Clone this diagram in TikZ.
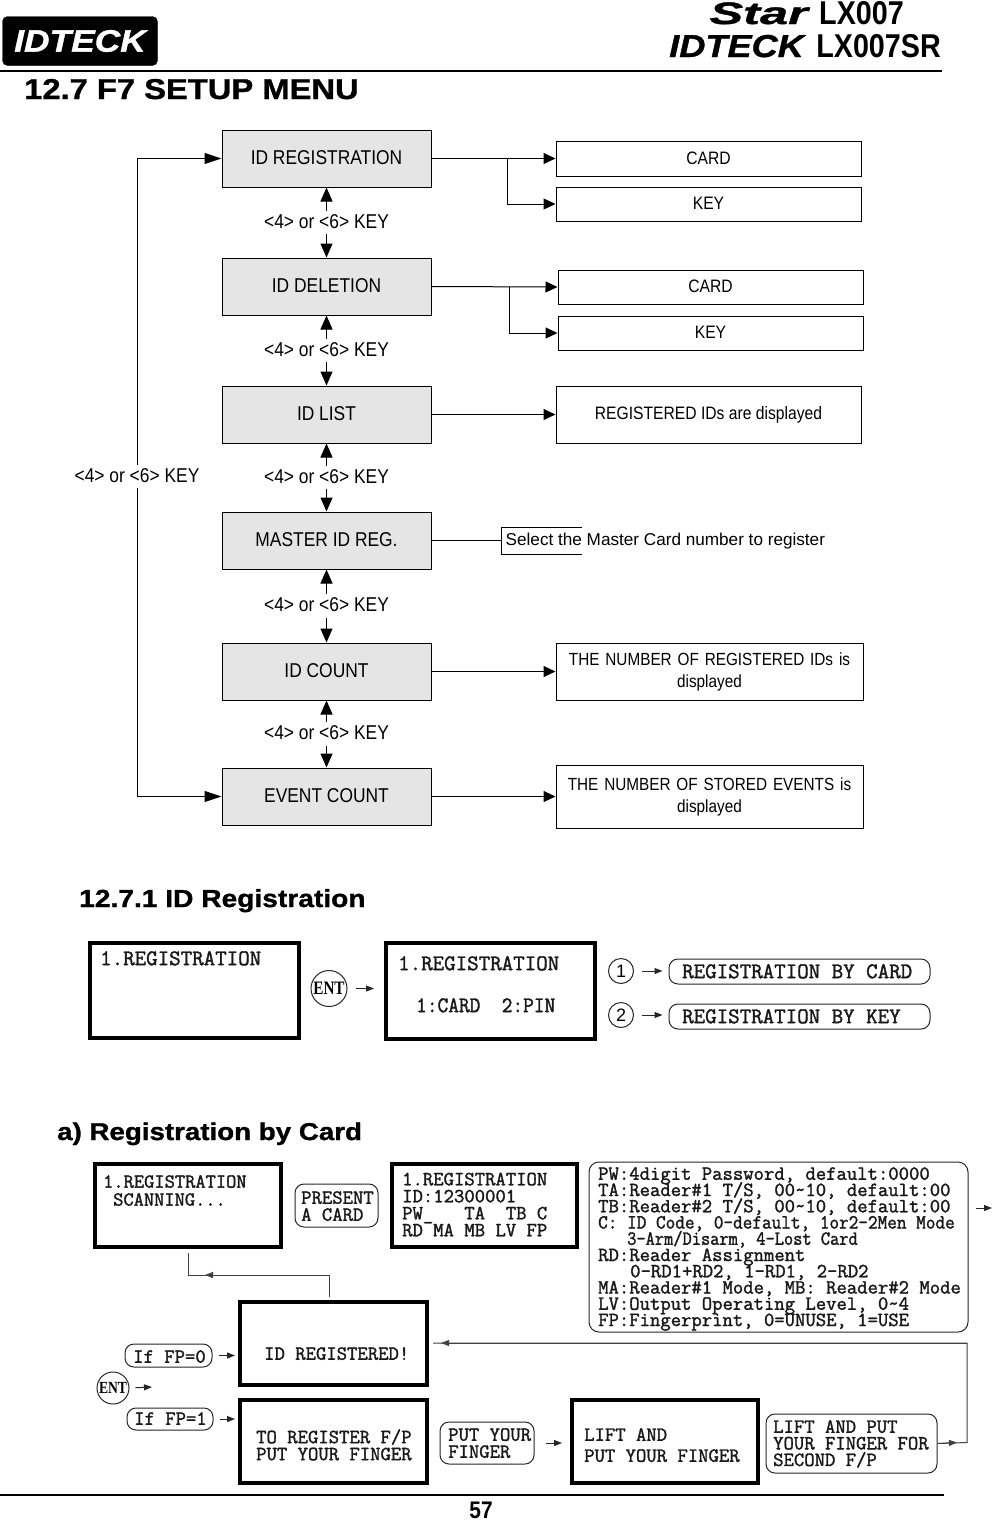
\documentclass[tikz,border=0pt]{standalone}
\usepackage{fontspec}
\usetikzlibrary{arrows.meta}
\setmainfont{Liberation Sans}
\newfontfamily\flowfam[FakeStretch=0.87]{Liberation Sans}
\newfontfamily\headfam[FakeStretch=1.14,FakeBold=1.2]{Liberation Sans Bold}
\newfontfamily\starfam[FakeStretch=1.63,FakeBold=1.2]{Liberation Sans Bold}
\newfontfamily\narrowfam[FakeStretch=0.87]{Liberation Sans Bold}
\newfontfamily\lcdfam[Scale=1.163,FakeBold=1.6]{Latin Modern Mono}
\newfontfamily\lcdnarrow[Scale=1.163,FakeBold=1.6,FakeStretch=0.93]{Latin Modern Mono}
\newfontfamily\lcdnarrower[Scale=1.163,FakeBold=1.6,FakeStretch=0.89]{Latin Modern Mono}
\newfontfamily\entfam[FakeStretch=0.8]{Liberation Serif Bold}
\newcommand{\pxf}[2]{\fontsize{#1}{#2}\selectfont}
\tikzset{
  x=1pt,y=-1pt,
  flowbox/.style={draw=black,fill=black!10,line width=1pt,minimum width=209,minimum height=57,inner sep=0pt,text depth=2pt,font=\flowfam\pxf{20}{22}},
  infobox/.style={draw=black,line width=1pt,inner sep=0pt,font=\flowfam\pxf{18}{22},align=center},
  infolong/.style={infobox,minimum width=307,text width=300,font=\flowfam\pxf{17.6}{22}},
  vkey/.style={line width=1pt,{Triangle[length=14pt,width=12pt]}-{Triangle[length=14pt,width=12pt]}},
  loopline/.style={line width=1pt,{Triangle[length=17pt,width=11pt]}-{Triangle[length=17pt,width=11pt]}},
  rarrow/.style={line width=1pt,-{Triangle[length=12pt,width=11pt]}},
  plain/.style={line width=1pt},
  keylabel/.style={fill=white,inner xsep=1pt,inner ysep=4pt,text depth=2pt,font=\flowfam\pxf{20}{22}},
  lcd/.style={draw=black,line width=4pt,inner sep=0pt},
  pill/.style={draw=black!85,line width=1pt,rounded corners=9pt,inner sep=0pt},
  lcdtext/.style={anchor=north west,inner sep=0pt,align=left,text=black!90,execute at begin node={\lineskiplimit=-30pt\relax}},
  tiny/.style={line width=1pt,draw=black!85,-{Triangle[length=8pt,width=6pt]},shorten <=4pt,shorten >=4pt},
  thin1/.style={line width=1pt,draw=black!75},
  circ/.style={draw=black!85,line width=1pt,circle,inner sep=0pt}
}
\begin{document}
\begin{tikzpicture}
\useasboundingbox (0,0) rectangle (992,1521);
% header
\node[draw=black,fill=black,rounded corners=5pt,minimum width=155,minimum height=49,inner sep=0pt,text=white,font=\headfam\itshape\pxf{31}{31}] (logo) at (80,41) {IDTECK};
\node[anchor=base east,inner sep=0pt,font=\starfam\itshape\pxf{31}{31}] (star) at (808,24) {Star};
\node[anchor=base east,inner sep=0pt,font=\narrowfam\pxf{33}{33}] (model1) at (904,24) {LX007};
\node[anchor=base east,inner sep=0pt,font=\headfam\itshape\pxf{31.7}{32}] (idteck) at (804,57) {IDTECK};
\node[anchor=base east,inner sep=0pt,font=\narrowfam\pxf{33}{33}] (model2) at (941,57) {LX007SR};
\coordinate (ruleAl) at (0,71); \coordinate (ruleAr) at (942,71);
\draw[line width=2pt] (ruleAl) -- (ruleAr);
\node[anchor=base west,inner sep=0pt,font=\headfam\pxf{28.7}{29}] (title) at (24,99) {12.7 F7 SETUP MENU};

% flow boxes
\node[flowbox] (reg) at (326.5,158.5) {ID REGISTRATION};
\node[flowbox] (del) at (326.5,286.5) {ID DELETION};
\node[flowbox] (lst) at (326.5,414.5) {ID LIST};
\node[flowbox] (mas) at (326.5,540.5) {MASTER ID REG.};
\node[flowbox] (cnt) at (326.5,671.5) {ID COUNT};
\node[flowbox] (evt) at (326.5,796.5) {EVENT COUNT};

\node[infobox,minimum width=305,minimum height=35] (card1) at (708.5,158.5) {CARD};
\node[infobox,minimum width=305,minimum height=34,text depth=2pt] (key1) at (708.5,204) {KEY};
\node[infobox,minimum width=305,minimum height=34,text depth=2pt] (card2) at (710.5,287) {CARD};
\node[infobox,minimum width=305,minimum height=34,text depth=2pt] (key2) at (710.5,333) {KEY};
\node[infobox,minimum width=305,minimum height=57,text depth=3pt] (listinfo) at (708.5,414.5) {REGISTERED IDs are displayed};
\node[infolong,minimum height=57] (cntinfo) at (709.5,671.5) {THE NUMBER OF REGISTERED IDs is\\displayed};
\node[infolong,minimum height=63] (evtinfo) at (709.5,796.5) {THE NUMBER OF STORED EVENTS is\\displayed};

% open box round the master note
\coordinate (selTR) at (582,527); \coordinate (selTL) at (501,527);
\coordinate (selBL) at (501,554); \coordinate (selBR) at (582,554);
\draw[plain] (selTR) -- (selTL) -- (selBL) -- (selBR);
\node[anchor=base west,inner sep=0pt,font=\pxf{17.15}{18}] (masinfo) at (505.5,545) {Select the Master Card number to register};
\coordinate (selIn) at (501,540.5);
\draw[plain] (mas.east) -- (selIn);

% vertical key arrows
\draw[vkey] (reg.south) -- (del.north) node[midway,keylabel] (k1) {<4> or <6> KEY};
\draw[vkey] (del.south) -- (lst.north) node[midway,keylabel] (k2) {<4> or <6> KEY};
\draw[vkey] (lst.south) -- (mas.north) node[midway,keylabel] (k3) {<4> or <6> KEY};
\draw[vkey] (mas.south) -- (cnt.north) node[midway,keylabel] (k4) {<4> or <6> KEY};
\draw[vkey] (cnt.south) -- (evt.north) node[midway,keylabel] (k5) {<4> or <6> KEY};

% outer loop
\coordinate (loopT) at (137,158.5); \coordinate (loopB) at (137,796.5);
\draw[loopline] (reg.west) -- (loopT) -- (loopB) -- (evt.west);
\node[keylabel,inner xsep=4pt] (k6) at (137,476.5) {<4> or <6> KEY};

% right branches
\draw[rarrow] (reg.east) -- (card1.west);
\coordinate (b1) at (507,158.5);
\draw[rarrow] (b1) |- (key1.west);
\draw[rarrow] (del.east) -- (card2.west);
\coordinate (b2) at (509,287);
\draw[rarrow] (b2) |- (key2.west);
\draw[rarrow] (lst.east) -- (listinfo.west);
\draw[rarrow] (cnt.east) -- (cntinfo.west);
\draw[rarrow] (evt.east) -- (evtinfo.west);

% 12.7.1
\node[anchor=base west,inner sep=0pt,font=\headfam\pxf{24.7}{25}] (sec1) at (79,907) {12.7.1 ID Registration};
\node[lcd,minimum width=209,minimum height=95] (p1) at (194.5,990.5) {};
\node[lcdtext,font=\lcdfam\pxf{19.2}{20}] (p1t) at (100,951) {1.REGISTRATION};
\node[lcd,minimum width=209,minimum height=96] (p2) at (490.5,991) {};
\node[lcdtext,font=\lcdfam\pxf{19.2}{42}] (p2t) at (398,956) {1.REGISTRATION\\\hspace*{18pt}{\lcdnarrow\pxf{19.2}{42}1:CARD~~2:PIN}};
\node[circ,minimum size=36,font=\entfam\pxf{19}{19}] (ent1) at (329,988.5) {ENT};
\draw[tiny,shorten <=8pt,shorten >=10pt] (ent1.east) -- (p2.west |- ent1.east);
\node[circ,minimum size=25,font=\pxf{18}{18}] (c1) at (621,971) {1};
\node[circ,minimum size=25,font=\pxf{18}{18}] (c2) at (621,1015) {2};
\node[pill,minimum width=261,minimum height=25] (byc) at (799.5,971.5) {};
\node[pill,minimum width=261,minimum height=25] (byk) at (799.5,1016.5) {};
\node[lcdtext,font=\lcdfam\pxf{19.2}{20}] (byct) at (682,964) {REGISTRATION BY CARD};
\node[lcdtext,font=\lcdfam\pxf{19.2}{20}] (bykt) at (682,1009) {REGISTRATION BY KEY};
\draw[tiny,shorten <=8pt,shorten >=6pt] (c1.east) -- (byc.west |- c1.east);
\draw[tiny,shorten <=8pt,shorten >=6pt] (c2.east) -- (byk.west |- c2.east);

% a)
\node[anchor=base west,inner sep=0pt,font=\headfam\pxf{24.3}{25}] (sec2) at (57,1140) {a) Registration by Card};
\node[lcd,minimum width=186,minimum height=83] (q1) at (188,1205.5) {};
\node[lcdtext,font=\lcdfam\pxf{17.1}{18}] (q1t) at (103,1175) {1.REGISTRATION\\\hspace*{10pt}SCANNING...};
\node[pill,minimum width=83,minimum height=43] (present) at (336.5,1205.5) {};
\node[lcdtext,font=\lcdfam\pxf{17.3}{17}] (presentt) at (301,1191) {PRESENT\\A CARD};
\node[lcd,minimum width=185,minimum height=83] (q2) at (484.5,1205.5) {};
\node[lcdtext,font=\lcdfam\pxf{17.3}{17}] (q2t) at (402,1172.5) {1.REGISTRATION\\ID:12300001\\PW\_~~~TA~~TB~C\\RD~MA~MB~LV~FP};
\node[pill,minimum width=379,minimum height=170,rounded corners=10pt] (legend) at (778.5,1247) {};
\node[lcdtext,font=\lcdfam\pxf{17.3}{16.25}] (legendt) at (598,1167) {PW:4digit Password, default:0000\\
TA:Reader\#1 T/S, 00\textasciitilde10, default:00\\
TB:Reader\#2 T/S, 00\textasciitilde10, default:00\\
{\lcdnarrow C: ID Code, 0-default, 1or2-2Men Mode}\\
\hspace*{29pt}{\lcdnarrower 3-Arm/Disarm, 4-Lost Card}\\
RD:Reader Assignment\\
\hspace*{32pt}0-RD1+RD2, 1-RD1, 2-RD2\\
MA:Reader\#1 Mode, MB: Reader\#2 Mode\\
LV:Output Operating Level, 0\textasciitilde4\\
FP:Fingerprint, 0=UNUSE, 1=USE};
\coordinate (outA) at (976,1208); \coordinate (outB) at (992,1208);
\draw[tiny,shorten <=0pt,shorten >=0pt] (outA) -- (outB);

\node[lcd,minimum width=187,minimum height=83] (r1) at (333.5,1343.5) {};
\node[lcdtext,font=\lcdfam\pxf{17.3}{18}] (r1t) at (264,1347) {ID REGISTERED!};
\node[lcd,minimum width=187,minimum height=83] (r2) at (333.5,1441.5) {};
\node[lcdtext,font=\lcdfam\pxf{17.3}{17}] (r2t) at (256,1429) {TO REGISTER F/P\\PUT YOUR FINGER};
\node[lcd,minimum width=186,minimum height=83] (r3) at (665,1441.5) {};
\node[lcdtext,font=\lcdfam\pxf{17.3}{21}] (r3t) at (584,1428) {LIFT AND\\PUT YOUR FINGER};
\node[pill,minimum width=87,minimum height=23] (fp0) at (168.5,1355.5) {};
\node[lcdtext,font=\lcdfam\pxf{17.3}{17}] (fp0t) at (133,1350) {If FP=0};
\node[pill,minimum width=86,minimum height=22] (fp1) at (170,1419) {};
\node[lcdtext,font=\lcdfam\pxf{17.3}{17}] (fp1t) at (134,1412) {If FP=1};
\node[circ,minimum size=32,font=\entfam\pxf{17}{17}] (ent2) at (113,1388) {ENT};
\coordinate (ent2out) at (152,1387);
\draw[tiny,shorten <=6pt,shorten >=0pt] (ent2.east) -- (ent2out);
\draw[tiny,shorten <=6pt,shorten >=3pt] (fp0.east) -- (r1.west |- fp0.east);
\draw[tiny,shorten <=6pt,shorten >=3pt] (fp1.east) -- (r2.west |- fp1.east);
\node[pill,minimum width=94,minimum height=42] (put) at (487,1443) {};
\node[lcdtext,font=\lcdfam\pxf{17.3}{17}] (putt) at (448,1428) {PUT YOUR\\FINGER};
\draw[tiny,shorten <=11pt,shorten >=8pt] (put.east) -- (r3.west |- put.east);
\node[pill,minimum width=171,minimum height=59] (lift) at (851.5,1443.5) {};
\node[lcdtext,font=\lcdfam\pxf{17.3}{16.6}] (liftt) at (773,1420) {LIFT AND PUT\\YOUR FINGER FOR\\SECOND F/P};

% feedback connectors
\coordinate (fbA) at (188,1253); \coordinate (fbB) at (188,1275);
\coordinate (fbC) at (329,1275); \coordinate (fbD) at (329,1297);
\coordinate (fbM) at (205,1275);
\draw[thin1] (fbD) -- (fbC) -- (fbB) -- (fbA);
\draw[thin1,-{Triangle[length=8pt,width=6pt]}] (fbC) -- (fbM);
\coordinate (rtA) at (967,1442.5); \coordinate (rtB) at (967,1343); \coordinate (rtC) at (433,1343);
\coordinate (rtM) at (441,1343); \coordinate (rtN) at (957,1442.5);
\draw[thin1] (lift.east) -- (rtA) -- (rtB) -- (rtC);
\draw[thin1,-{Triangle[length=8pt,width=6pt]}] (rtB) -- (rtM);
\draw[thin1,-{Triangle[length=8pt,width=6pt]}] (lift.east) -- (rtN);

% footer
\coordinate (ruleBl) at (0,1495); \coordinate (ruleBr) at (944,1495);
\draw[line width=2pt] (ruleBl) -- (ruleBr);
\node[inner sep=0pt,font=\narrowfam\pxf{24}{25}] (page) at (481,1510.5) {57};
\end{tikzpicture}
\end{document}
